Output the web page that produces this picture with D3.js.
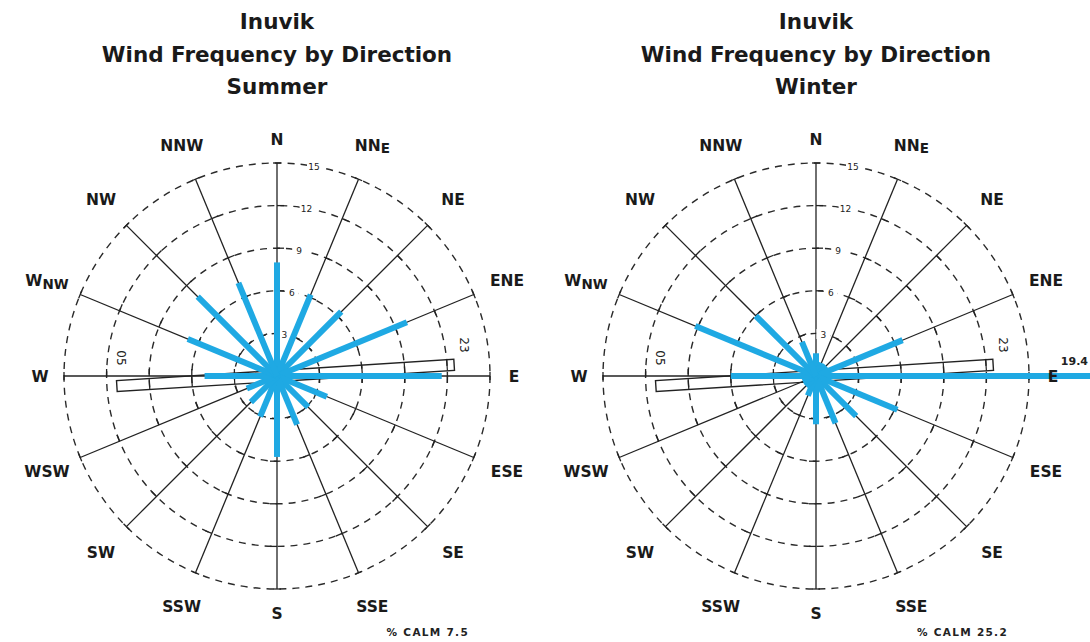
<!DOCTYPE html>
<html>
<head>
<meta charset="utf-8">
<script src="https://cdn.jsdelivr.net/npm/d3@7"></script>
<style>
  html, body { margin: 0; padding: 0; background: #fff; }
  svg { display: block; }
</style>
</head>
<body>
<svg id="chart" width="1090" height="642"></svg>
<script>
// ---------------- data ----------------
const station = "Inuvik";
const subtitle = "Wind Frequency by Direction";
const seasons = ["Summer", "Winter"];
const directions = ["N","NNE","NE","ENE","E","ESE","SE","SSE","S","SSW","SW","WSW","W","WNW","NW","NNW"];
const summerFreq = [8.0, 6.2, 6.4, 9.9, 11.6, 3.8, 3.1, 3.7, 5.7, 3.1, 2.6, 2.3, 5.1, 6.8, 7.9, 7.1];
const winterFreq = [1.6, 1.0, 1.0, 6.6, 19.4, 6.2, 4.0, 3.6, 3.4, 1.5, 1.0, 1.0, 6.0, 9.2, 6.0, 2.6];
const calmPct = [7.5, 25.2];
const ringTicks = [3, 6, 9, 12, 15];
const runwayLabels = ["05", "23"];

// ---------------- layout ----------------
const svg = d3.select("#chart");
const centers = [[277, 376], [816, 376]];
const R = 213;
const r = d3.scaleLinear().domain([0, 15]).range([0, R]);
const ang = d3.scaleLinear().domain([0, directions.length]).range([0, 2 * Math.PI]);
const blue = "#1fa9e3";
const ink = "#222";

function pt(a, rad) { return [rad * Math.sin(a), -rad * Math.cos(a)]; }

const datasets = [summerFreq, winterFreq];

seasons.forEach((season, si) => {
  const [cx, cy] = centers[si];
  const freq = datasets[si];

  // titles
  const t = svg.append("g").attr("transform", `translate(${cx},0)`)
    .attr("font-family", "'DejaVu Sans', sans-serif")
    .attr("font-weight", "bold").attr("fill", "#1a1a1a").attr("text-anchor", "middle");
  [station, subtitle, season].forEach((s, i) => {
    t.append("text").attr("x", 0).attr("y", [29, 62, 94][i])
      .attr("font-size", 21.5).text(s);
  });

  const g = svg.append("g").attr("transform", `translate(${cx},${cy})`);

  // dashed rings
  g.append("g").selectAll("circle").data(ringTicks).join("circle")
    .attr("r", d => r(d)).attr("fill", "none")
    .attr("stroke", "#2a2a2a").attr("stroke-width", 1.4)
    .attr("stroke-dasharray", "7,6");

  // spokes
  const spokes = g.append("g").attr("stroke", ink).attr("stroke-width", 1.3).attr("fill", "none");
  directions.forEach((d, i) => {
    const a = ang(i);
    const [x2, y2] = pt(a, R);
    spokes.append("line").attr("x1", 0).attr("y1", 0).attr("x2", x2).attr("y2", y2);
    const ux = Math.cos(a), uy = Math.sin(a);
    spokes.append("line")
      .attr("x1", x2 - 4 * ux).attr("y1", y2 - 4 * uy)
      .attr("x2", x2 + 4 * ux).attr("y2", y2 + 4 * uy);
    ringTicks.slice(0, -1).forEach(v => {
      const [tx, ty] = pt(a, r(v));
      spokes.append("line")
        .attr("x1", tx).attr("y1", ty)
        .attr("x2", tx + 7 * ux).attr("y2", ty + 7 * uy);
    });
  });

  // ring labels
  const rl = g.append("g").attr("font-family", "'DejaVu Sans', sans-serif")
    .attr("font-size", 9).attr("fill", "#222").attr("text-anchor", "middle");
  ringTicks.forEach(v => {
    const [x, y] = pt(10 * Math.PI / 180, r(v));
    rl.append("rect").attr("x", x - 7).attr("y", y - 5).attr("width", 14).attr("height", 10).attr("fill", "#fff");
    rl.append("text").attr("x", x).attr("y", y + 3.5).text(v);
  });

  // runway
  const rw = g.append("g").attr("transform", "rotate(-3.6)");
  const rwStart = r(-11.3), rwEnd = r(12.5), rwH = 11;
  rw.append("rect").attr("x", rwStart).attr("y", -rwH / 2)
    .attr("width", rwEnd - rwStart).attr("height", rwH)
    .attr("fill", "none").attr("stroke", ink).attr("stroke-width", 1.4);
  [-9, -6, -3, 3, 6, 9, 12].forEach(v => {
    rw.append("line").attr("x1", r(v)).attr("x2", r(v))
      .attr("y1", -rwH / 2).attr("y2", rwH / 2)
      .attr("stroke", ink).attr("stroke-width", 1.2);
  });
  const rwl = g.append("g").attr("font-family", "'DejaVu Sans', sans-serif")
    .attr("font-size", 12).attr("fill", "#222").attr("text-anchor", "middle");
  [[-156, -18], [187, -31]].forEach((p, i) => {
    rwl.append("text")
      .attr("transform", `translate(${p[0]},${p[1]}) rotate(90)`)
      .attr("y", 4).text(runwayLabels[i]);
  });

  // frequency bars
  g.append("g").selectAll("line").data(freq).join("line")
    .attr("x1", 0).attr("y1", 0)
    .attr("x2", (d, i) => pt(ang(i), r(d))[0])
    .attr("y2", (d, i) => pt(ang(i), r(d))[1])
    .attr("stroke", blue).attr("stroke-width", 6).attr("stroke-linecap", "butt");

  // over-range value label (kept inside the page)
  freq.forEach((v, i) => {
    if (v > 15) {
      g.append("text").attr("x", 1088 - cx).attr("y", -11)
        .attr("text-anchor", "end")
        .attr("font-family", "'DejaVu Sans', sans-serif").attr("font-weight", "bold")
        .attr("font-size", 11).attr("fill", "#222").text(v.toFixed(1));
    }
  });

  // direction labels
  const dl = g.append("g").attr("font-family", "'DejaVu Sans', sans-serif")
    .attr("font-weight", "bold").attr("font-size", 15.5).attr("fill", "#1a1a1a")
    .attr("text-anchor", "middle");
  directions.forEach((d, i) => {
    const rad = (i % 4 === 0) ? 237 : 249;
    const [x, y] = pt(ang(i), rad);
    const tx = dl.append("text").attr("x", x).attr("y", y + 5.5);
    if (d === "NNE") {
      tx.append("tspan").text("NN");
      tx.append("tspan").attr("font-size", 13.5).attr("dy", 2).text("E");
    } else if (d === "WNW") {
      tx.append("tspan").text("W");
      tx.append("tspan").attr("font-size", 13.5).attr("dy", 3).text("NW");
    } else {
      tx.text(d);
    }
  });

  // calm label
  g.append("text").attr("x", 192).attr("y", 260)
    .attr("text-anchor", "end")
    .attr("font-family", "'DejaVu Sans', sans-serif").attr("font-weight", "bold")
    .attr("font-size", 10.5).attr("letter-spacing", 1.3).attr("fill", "#222")
    .text(`% CALM ${calmPct[si]}`);
});
</script>
</body>
</html>
